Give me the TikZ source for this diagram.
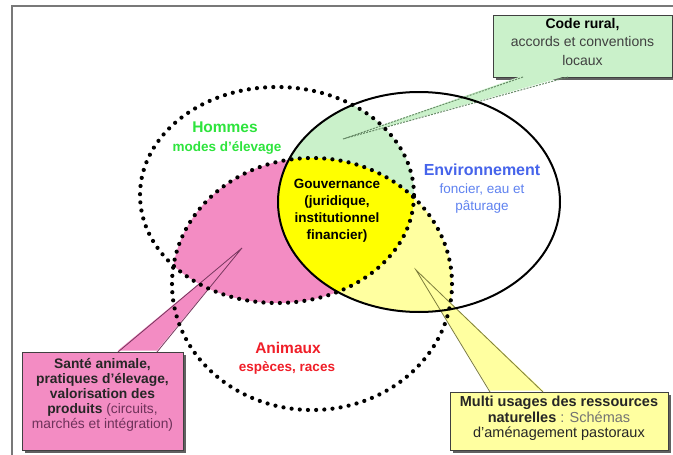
\documentclass[tikz,border=0pt]{standalone}
\usepackage{fontspec}
\setmainfont{Liberation Sans}
\usetikzlibrary{shadows}
\definecolor{greenF}{RGB}{202,241,202}
\definecolor{pinkF}{RGB}{243,140,195}
\definecolor{lyel}{RGB}{255,255,160}
\definecolor{yel}{RGB}{255,255,0}
\definecolor{hgreen}{RGB}{45,228,60}
\definecolor{eblue}{RGB}{70,100,235}
\definecolor{eblue2}{RGB}{95,130,240}
\definecolor{ared}{RGB}{240,30,40}
\definecolor{pinktext}{RGB}{110,50,90}
\definecolor{pinkedge}{RGB}{120,55,95}
\definecolor{yeledge}{RGB}{125,125,60}
\definecolor{greenedge}{RGB}{105,140,105}
\definecolor{framegray}{RGB}{120,120,120}
\tikzset{
  dotline/.style={line width=4.2pt, dash pattern=on 0pt off 8.2pt, line cap=round},
  solidline/.style={line width=2pt},
  callbox/.style={draw=gray!50!black, line width=0.6pt, inner sep=0pt, align=center,
    drop shadow={shadow xshift=2.5pt, shadow yshift=-2.5pt, fill=gray!55!black, opacity=0.85}},
  titlefont/.style={font=\bfseries\fontsize{15.5}{17}\selectfont},
  subfont/.style={font=\fontsize{13.5}{17}\selectfont},
}
\def\Hell{(277,195) ellipse [x radius=137pt, y radius=108pt]}
\def\Eell{(419,202) ellipse [x radius=141pt, y radius=110pt]}
\def\Aell{(312,284) ellipse [x radius=140pt, y radius=126pt]}
\begin{document}
\begin{tikzpicture}[x=1pt,y=-1pt]
\useasboundingbox (0,0) rectangle (673,455);
\fill[white] (0,0) rectangle (673,455);
\draw[framegray, line width=1.4pt] (12,456) -- (12,6) -- (674,6);

% region fills
\begin{scope}\clip \Hell; \fill[pinkF] \Aell; \end{scope}
\begin{scope}\clip \Hell; \fill[greenF] \Eell; \end{scope}
\begin{scope}\clip \Eell; \fill[lyel] \Aell; \end{scope}
\begin{scope}\clip \Hell; \clip \Eell; \fill[yel] \Aell; \end{scope}

% boxes
\node[callbox, fill=greenF, minimum width=179pt, minimum height=62pt, font=\fontsize{14}{18.5}\selectfont] (cr) at (582.5,46)
  {\textbf{Code rural,}\\ \color{black!75}accords et conventions\\ \color{black!75}locaux\rule[-9pt]{0pt}{9pt}};
\node[callbox, fill=pinkF, minimum width=161pt, minimum height=98pt, font=\fontsize{13.8}{15}\selectfont, text=black!85] (sa) at (102.5,401)
  {\textbf{Santé animale,}\\ \textbf{pratiques d'élevage,}\\ \textbf{valorisation des}\\ \textbf{produits} {\color{pinktext}(circuits,}\\ {\color{pinktext}marchés et intégration)}\rule[-16pt]{0pt}{16pt}};
\node[callbox, fill=lyel, minimum width=218pt, minimum height=58pt, font=\fontsize{14.5}{15.5}\selectfont, text=black!85] (mu) at (559,421)
  {\textbf{Multi usages des ressources}\\ \textbf{naturelles} {\color{black!55}: Schémas}\\ d'aménagement pastoraux\rule[-8pt]{0pt}{8pt}};

% callout wedges
\coordinate (crtip) at (343,139);
\coordinate (crA) at (523,77);
\coordinate (crB) at (568,77);
\coordinate (satip) at (242,248);
\coordinate (saA) at (118,352);
\coordinate (saB) at (157,352);
\coordinate (mutip) at (416,270);
\coordinate (muA) at (490,392);
\coordinate (muB) at (543,392);
\fill[greenF] (crtip) -- ([yshift=1.5pt]crA) -- ([yshift=1.5pt]crB) -- cycle;
\draw[greenedge, line width=1pt, dash pattern=on 2pt off 1.2pt] (crA) -- (crtip) -- (crB);
\fill[pinkF] (satip) -- ([yshift=1.5pt]saA) -- ([yshift=1.5pt]saB) -- cycle;
\draw[pinkedge, line width=0.8pt] (saA) -- (satip) -- (saB);
\fill[lyel] (mutip) -- ([yshift=1.5pt]muA) -- ([yshift=1.5pt]muB) -- cycle;
\draw[yeledge, line width=0.8pt] (muA) -- (mutip) -- (muB);

% outlines
\draw[solidline] \Eell;
\draw[dotline] \Hell;
\draw[dotline] \Aell;

% labels
\node[titlefont, text=hgreen] (hom) at (225,127) {Hommes};
\node[font=\bfseries\fontsize{13.5}{15}\selectfont, text=hgreen] (homs) at (227,148) {modes d'élevage};
\node[font=\bfseries\fontsize{16}{17}\selectfont, text=eblue] (env) at (482,170) {Environnement};
\node[subfont, text=eblue2, align=center] (envs) at (482,199) {foncier, eau et\\pâturage};
\node[font=\bfseries\fontsize{13.5}{17}\selectfont, align=center] (gov) at (337,211) {Gouvernance\\(juridique,\\institutionnel\\financier)};
\node[titlefont, text=ared] (ani) at (288,348) {Animaux};
\node[font=\bfseries\fontsize{13.5}{15}\selectfont, text=ared] (anis) at (287,368) {espèces, races};
\end{tikzpicture}
\end{document}
